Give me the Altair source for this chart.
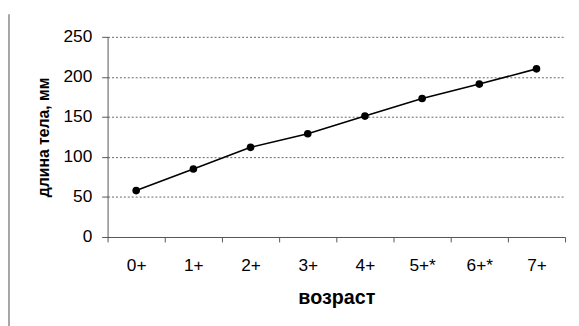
import altair as alt
import pandas as pd

ages = ["0+", "1+", "2+", "3+", "4+", "5+*", "6+*", "7+"]
lengths = [58, 85, 112, 129, 151, 173, 191, 210]
y_ticks = [0, 50, 100, 150, 200, 250]

df = pd.DataFrame({"age": ages, "len": lengths})
FONT = "Liberation Sans"

x = alt.X("age:N", sort=ages, title="возраст",
          scale=alt.Scale(paddingInner=0, paddingOuter=0),
          axis=alt.Axis(labelAngle=0, tickBand="extent", grid=False,
                        domainColor="#555", tickColor="#555", tickSize=5,
                        labelPadding=15, labelFontSize=17.5, labelFont=FONT,
                        labelColor="black", titleFont=FONT, titleFontSize=20,
                        titleFontWeight="bold", titlePadding=14, titleColor="black"))
y = alt.Y("len:Q", title="длина тела, мм",
          scale=alt.Scale(domain=[0, 250], nice=False),
          axis=alt.Axis(values=y_ticks, grid=True, gridDash=[2, 2], gridColor="#666",
                        domainColor="#555", tickColor="#555", tickSize=6,
                        labelPadding=10, labelFontSize=17.5, labelFont=FONT,
                        labelColor="black", titleFont=FONT, titleFontSize=16,
                        titleFontWeight="bold", titlePadding=12, titleColor="black"))

base = alt.Chart(df)
line = base.mark_line(color="black", strokeWidth=1.6).encode(x=x, y=y)
pts = base.mark_point(filled=True, color="black", size=60, opacity=1).encode(x=x, y=y)
frame = alt.Chart(pd.DataFrame({"a": [0]})).mark_rule(stroke="#888888", strokeWidth=1.5, clip=False).encode(
    x=alt.value(-100), y=alt.value(-23), y2=alt.value(300))

chart = alt.layer(line, pts, frame).properties(
    width=464, height=203,
    autosize=alt.AutoSizeParams(type="none"),
    padding={"left": 101, "top": 27, "right": 6, "bottom": 88},
).configure_view(stroke=None)

chart.save("out.html", embed_options={"renderer": "svg", "actions": False})
